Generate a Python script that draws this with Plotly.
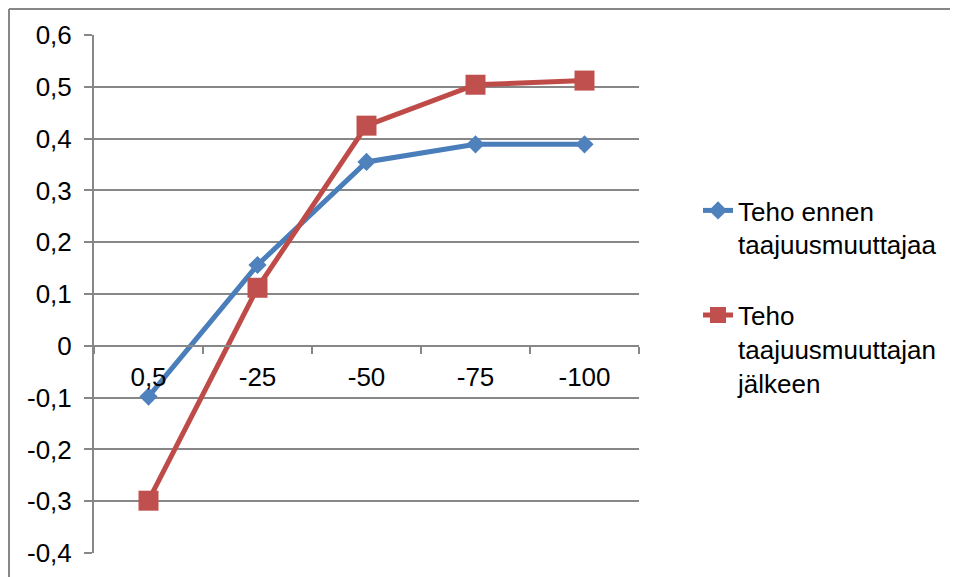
import plotly.graph_objects as go

categories = ["0,5", "-25", "-50", "-75", "-100"]
teho_ennen = [-0.098, 0.156, 0.355, 0.389, 0.389]
teho_jalkeen = [-0.299, 0.112, 0.425, 0.504, 0.512]
y_tickvals = [-0.4, -0.3, -0.2, -0.1, 0, 0.1, 0.2, 0.3, 0.4, 0.5, 0.6]
y_ticktext = ["-0,4", "-0,3", "-0,2", "-0,1", "0", "0,1", "0,2", "0,3", "0,4", "0,5", "0,6"]
series_names = ["Teho ennen<br>taajuusmuuttajaa", "Teho<br>taajuusmuuttajan<br>jälkeen"]

W, H = 958, 577
OFF = 8  # page body margin offset
L, R, T, B = 94 - OFF, 639 - OFF, 35 - OFF, 553 - OFF
FONT = "Arial, Liberation Sans, sans-serif"
GRID = "#878787"
FS = 26

def px(x):
    return (x - OFF - L) / (R - L)

def py(y):
    return (B - (y - OFF)) / (B - T)

fig = go.Figure()
fig.add_trace(go.Scatter(
    x=categories, y=teho_ennen, name=series_names[0], mode="lines+markers",
    line=dict(color="#4A7EBB", width=5),
    marker=dict(symbol="diamond", size=14, color="#4F81BD", line=dict(width=0)),
    legendgroup="a"))
fig.add_trace(go.Scatter(
    x=categories, y=teho_jalkeen, name=series_names[1], mode="lines+markers",
    line=dict(color="#BE4B48", width=5),
    marker=dict(symbol="square", size=20, color="#C0504D", line=dict(width=0)),
    legendgroup="b"))

zero_pos = (0 - (-0.4)) / (0.6 - (-0.4))

fig.update_layout(
    width=W, height=H,
    margin=dict(l=L, r=W - R, t=T, b=H - B, pad=0),
    paper_bgcolor="white", plot_bgcolor="white",
    font=dict(family=FONT, size=FS, color="black"),
    showlegend=True,
    legend=dict(x=px(698), xanchor="left", y=py(187), yanchor="top",
                valign="top", tracegroupgap=34, font=dict(size=FS, color="black"),
                bgcolor="rgba(0,0,0,0)", itemclick=False),
    xaxis=dict(type="category", anchor="free", position=zero_pos, range=[-0.5, 4.5],
               showline=True, linecolor=GRID, linewidth=2,
               ticks="outside", tickson="boundaries", ticklen=7, tickcolor=GRID, tickwidth=2,
               showgrid=False, zeroline=False, ticklabelstandoff=8,
               tickfont=dict(size=FS, color="black")),
    yaxis=dict(range=[-0.4, 0.6], tickvals=y_tickvals, ticktext=y_ticktext,
               showline=True, linecolor=GRID, linewidth=2,
               ticks="outside", ticklen=8, tickcolor=GRID, tickwidth=2,
               showgrid=True, gridcolor=GRID, gridwidth=2, zeroline=False,
               ticklabelstandoff=7, tickfont=dict(size=FS, color="black")),
    shapes=[
        dict(type="line", xref="paper", yref="paper",
             x0=px(9), x1=px(1000), y0=py(OFF + 1), y1=py(OFF + 1),
             line=dict(color=GRID, width=2), layer="below"),
        dict(type="line", xref="paper", yref="paper",
             x0=px(9), x1=px(9), y0=py(OFF + 1), y1=py(700),
             line=dict(color=GRID, width=2), layer="below"),
    ],
)

fig.write_html("out.html")
